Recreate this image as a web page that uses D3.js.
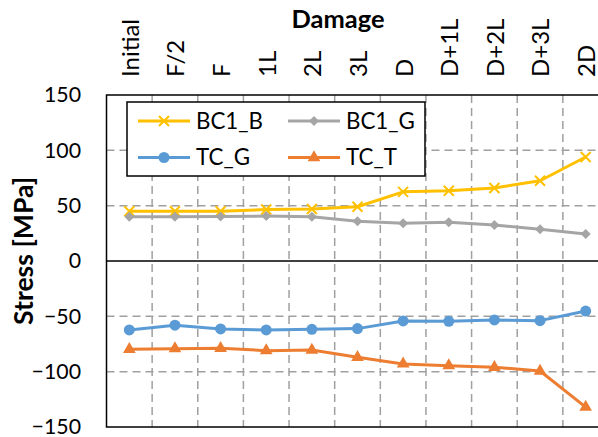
<!doctype html>
<html>
<head>
<meta charset="utf-8">
<script src="https://cdnjs.cloudflare.com/ajax/libs/d3/7.8.5/d3.min.js"></script>
<style>
  body { margin: 0; background: #fff; }
  svg { display: block; font-family: Lato, "Open Sans", sans-serif; }
</style>
</head>
<body>
<div id="chart"></div>
<script>
var w = 598;
var h = 437;

// data
var categories = ["Initial", "F/2", "F", "1L", "2L", "3L", "D", "D+1L", "D+2L", "D+3L", "2D"];
var bc1B = [45, 45, 45, 46.5, 47, 49, 62.5, 63.5, 66, 72.5, 94];
var bc1G = [40, 40, 40.3, 40.6, 40, 36, 34, 35, 32.5, 28.6, 24.5];
var tcG = [-62.3, -58, -61.4, -62.3, -61.7, -61.1, -54.2, -54.5, -53.3, -53.9, -45.2];
var tcT = [-79.8, -79.2, -78.9, -81, -80.4, -87, -93, -94.6, -96, -99.4, -132];
var seriesNames = ["BC1_B", "BC1_G", "TC_G", "TC_T"];
var seriesColors = ["#FFC000", "#A5A5A5", "#5B9BD5", "#ED7D31"];
var seriesMarkers = ["x", "diamond", "circle", "triangle"];
var yTicks = [150, 100, 50, 0, -50, -100, -150];

var series = [bc1B, bc1G, tcG, tcT].map(function (vals, i) {
    return { name: seriesNames[i], color: seriesColors[i], marker: seriesMarkers[i], values: vals };
});

// plot area runs past the right edge of the window, like the original
var plotL = 106.5, plotR = 608.5, plotT = 95, plotB = 427;

var xScale = d3.scaleBand()
    .domain(categories)
    .range([plotL, plotR])
    .padding(0);

var yScale = d3.scaleLinear()
    .domain([-150, 150])
    .range([plotB, plotT]);

var svg = d3.select("#chart")
    .append("svg")
    .attr("width", w)
    .attr("height", h);

// pick a font size so a sample string gets the width seen in the original (no Calibri here)
function fitSize(sample, weight, target) {
    var t = svg.append("text")
        .style("font-size", "20px")
        .style("font-weight", weight)
        .text(sample);
    var len = t.node().getComputedTextLength();
    t.remove();
    return 20 * target / len;
}
var tickSize = fitSize("-150", "normal", 45);
var catSize = fitSize("Initial", "normal", 58);
var legSize = fitSize("BC1_B", "normal", 67);
var titleSize = fitSize("Damage", "bold", 93);
var yTitleSize = fitSize("Stress [MPa]", "bold", 148);

// dashed grid
var grid = svg.append("g")
    .attr("stroke", "#A0A0A0")
    .attr("stroke-width", 1.5)
    .attr("stroke-dasharray", "8,5");

grid.selectAll("line.h")
    .data(yTicks.filter(function (d) { return d !== 0 && d !== 150 && d !== -150; }))
    .enter()
    .append("line")
    .attr("class", "h")
    .attr("x1", plotL)
    .attr("x2", plotR)
    .attr("y1", function (d) { return yScale(d); })
    .attr("y2", function (d) { return yScale(d); });

grid.selectAll("line.v")
    .data(categories.slice(1))
    .enter()
    .append("line")
    .attr("class", "v")
    .attr("x1", function (d) { return xScale(d); })
    .attr("x2", function (d) { return xScale(d); })
    .attr("y1", plotT)
    .attr("y2", plotB);

// plot border + zero line
svg.append("rect")
    .attr("x", plotL)
    .attr("y", plotT)
    .attr("width", plotR - plotL)
    .attr("height", plotB - plotT)
    .attr("fill", "none")
    .attr("stroke", "#000")
    .attr("stroke-width", 1.5);

svg.append("line")
    .attr("x1", plotL)
    .attr("x2", plotR)
    .attr("y1", yScale(0))
    .attr("y2", yScale(0))
    .attr("stroke", "#000")
    .attr("stroke-width", 1.5);

// y axis labels
var yAxis = d3.axisLeft(yScale)
    .tickValues(yTicks)
    .tickSize(0)
    .tickPadding(25.5);

svg.append("g")
    .attr("transform", "translate(" + plotL + ",0)")
    .call(yAxis)
    .call(function (g) { g.select(".domain").remove(); })
    .selectAll("text")
    .attr("font-family", "Lato, sans-serif")
    .attr("font-size", tickSize)
    .attr("fill", "#000");

// category labels on top, rotated
svg.append("g")
    .selectAll("text")
    .data(categories)
    .enter()
    .append("text")
    .attr("transform", function (d) {
        return "translate(" + (xScale(d) + xScale.bandwidth() / 2 + 1) + ",77)rotate(-90)";
    })
    .attr("text-anchor", "start")
    .attr("dy", "0.35em")
    .style("font-size", catSize + "px")
    .text(function (d) { return d; });

// axis titles
svg.append("text")
    .attr("x", 338)
    .attr("y", 28)
    .attr("text-anchor", "middle")
    .style("font-size", titleSize + "px")
    .style("font-weight", "bold")
    .text("Damage");

svg.append("text")
    .attr("text-anchor", "middle")
    .attr("transform", "translate(33,251)rotate(-90)")
    .style("font-size", yTitleSize + "px")
    .style("font-weight", "bold")
    .text("Stress [MPa]");

// markers
function drawMarker(sel, type, color) {
    if (type === "x") {
        sel.append("path")
            .attr("d", "M-5,-5L5,5M-5,5L5,-5")
            .attr("stroke", color)
            .attr("stroke-width", 2)
            .attr("fill", "none");
    } else if (type === "diamond") {
        sel.append("path")
            .attr("d", d3.symbol(d3.symbolSquare, 50)())
            .attr("transform", "rotate(45)")
            .attr("fill", color);
    } else if (type === "circle") {
        sel.append("circle")
            .attr("r", 5.5)
            .attr("fill", color);
    } else {
        sel.append("path")
            .attr("d", d3.symbol(d3.symbolTriangle, 70)())
            .attr("fill", color);
    }
}

var line = d3.line()
    .x(function (d, i) { return xScale(categories[i]) + xScale.bandwidth() / 2; })
    .y(function (d) { return yScale(d); });

series.forEach(function (s) {
    svg.append("path")
        .datum(s.values)
        .attr("d", line)
        .attr("fill", "none")
        .attr("stroke", s.color)
        .attr("stroke-width", 3)
        .attr("stroke-linejoin", "round");

    svg.append("g")
        .selectAll("g")
        .data(s.values)
        .enter()
        .append("g")
        .attr("transform", function (d, i) {
            return "translate(" + (xScale(categories[i]) + xScale.bandwidth() / 2) + "," + yScale(d) + ")";
        })
        .each(function () { drawMarker(d3.select(this), s.marker, s.color); });
});

// legend
var legend = svg.append("g");
legend.append("rect")
    .attr("x", 127)
    .attr("y", 102)
    .attr("width", 298)
    .attr("height", 74)
    .attr("fill", "#fff")
    .attr("stroke", "#000")
    .attr("stroke-width", 1.5);

var items = legend.selectAll("g.item")
    .data(series)
    .enter()
    .append("g")
    .attr("class", "item")
    .attr("transform", function (d, i) {
        return "translate(" + (138 + (i % 2) * 150) + "," + (121 + Math.floor(i / 2) * 36.5) + ")";
    });

items.append("line")
    .attr("x1", 0)
    .attr("x2", 52)
    .attr("stroke", function (d) { return d.color; })
    .attr("stroke-width", 3);

items.append("g")
    .attr("transform", "translate(26,0)")
    .each(function (d) { drawMarker(d3.select(this), d.marker, d.color); });

items.append("text")
    .attr("x", 58)
    .attr("dy", "0.35em")
    .style("font-size", legSize + "px")
    .text(function (d) { return d.name; });
</script>
</body>
</html>
